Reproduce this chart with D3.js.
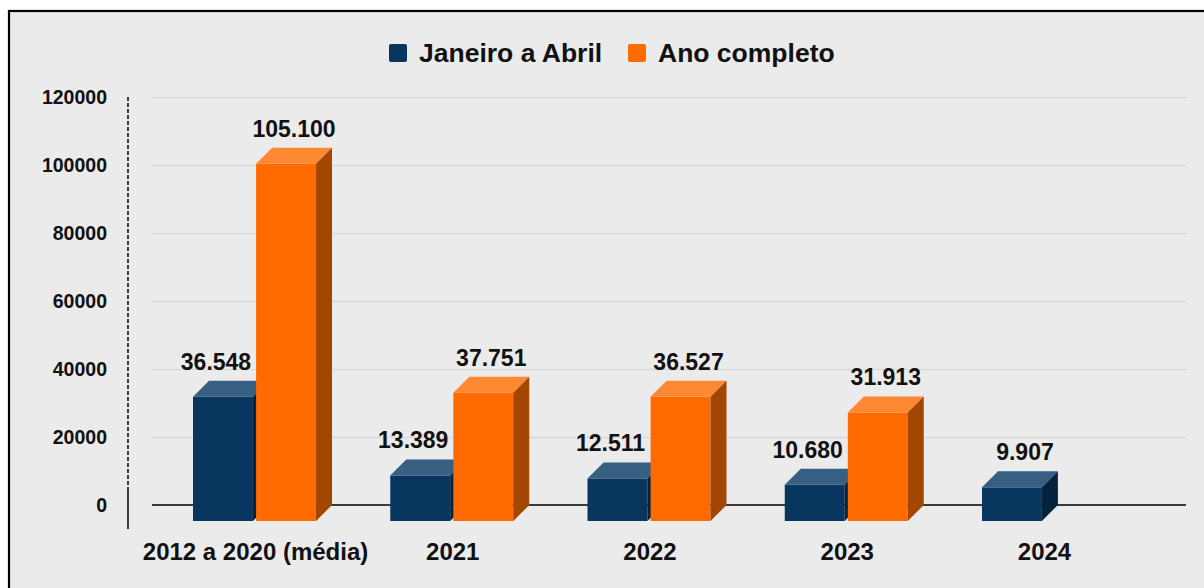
<!DOCTYPE html>
<html lang="pt">
<head>
<meta charset="utf-8">
<script src="https://cdn.jsdelivr.net/npm/d3@7"></script>
<style>
    html, body { margin: 0; padding: 0; background: #ffffff; }
    svg { display: block; font-family: "Liberation Sans", Arial, sans-serif; }
</style>
</head>
<body>
<svg id="chart" width="1204" height="588"></svg>
<script>
// dados
const categories = ['2012 a 2020 (média)', '2021', '2022', '2023', '2024'];
const seriesNames = ['Janeiro a Abril', 'Ano completo'];
const janeiroAbril = [36548, 13389, 12511, 10680, 9907];
const anoCompleto = [105100, 37751, 36527, 31913, null];
const yTicks = [0, 20000, 40000, 60000, 80000, 100000, 120000];

const COLORS = {
    'Janeiro a Abril': { front: '#08365f', top: '#375f82', side: '#06233e' },
    'Ano completo': { front: '#ff6b00', top: '#ff8833', side: '#a34600' }
};

const DEPTH = 16;
const ptBR = d3.formatLocale({ decimal: ',', thousands: '.', grouping: [3], currency: ['R$', ''] });
const formatValue = ptBR.format(',d');

const svg = d3.select('#chart');

// moldura
svg.append('rect')
    .attr('x', 9).attr('y', 11)
    .attr('width', 1300).attr('height', 700)
    .attr('fill', '#ebebeb')
    .attr('stroke', '#000').attr('stroke-width', 2.2);

const rows = categories.map((category, i) => ({
    category,
    values: [
        { series: seriesNames[0], value: janeiroAbril[i] },
        { series: seriesNames[1], value: anoCompleto[i] }
    ].filter((d) => d.value !== null)
}));

const yScale = d3.scaleLinear().domain([0, 120000]).range([505, 97]);
const x0 = d3.scaleBand().domain(categories).range([155.9, 1142.1]).padding(0);
const x1 = d3.scaleBand().domain(seriesNames).range([-61.5, 61.5]).paddingInner(0.05);

const plotLeft = 152;
const plotRight = 1186;

// grade + rótulos do eixo y
svg.append('g')
    .attr('transform', `translate(${plotRight},0)`)
    .call(d3.axisLeft(yScale)
        .tickValues(yTicks)
        .tickSize(plotRight - plotLeft)
        .tickPadding(plotLeft - 107)
        .tickFormat(d3.format('d')))
    .call((g) => g.select('.domain').remove())
    .call((g) => g.selectAll('line')
        .attr('stroke', (d) => (d === 0 ? 'none' : '#d9d9d9'))
        .attr('stroke-width', 1.5))
    .call((g) => g.selectAll('text')
        .attr('fill', '#111')
        .attr('font-size', 19.5)
        .attr('font-weight', 700));

// eixo vertical tracejado
svg.append('line')
    .attr('x1', 128).attr('x2', 128)
    .attr('y1', yScale(120000)).attr('y2', yScale(0) - 16)
    .attr('stroke', '#111').attr('stroke-width', 1.6)
    .attr('stroke-dasharray', '4,2');
svg.append('line')
    .attr('x1', 128).attr('x2', 128)
    .attr('y1', yScale(0) - 16).attr('y2', yScale(0) + 24)
    .attr('stroke', '#111').attr('stroke-width', 1.6);

// linha do zero
svg.append('line')
    .attr('x1', plotLeft).attr('x2', plotRight)
    .attr('y1', yScale(0)).attr('y2', yScale(0))
    .attr('stroke', '#3a3a3a').attr('stroke-width', 2);

const groups = svg.append('g')
    .selectAll('g')
    .data(rows)
    .enter()
    .append('g')
    .attr('transform', (d) => `translate(${x0(d.category) + x0.bandwidth() / 2},0)`);

const bars = groups.selectAll('.bar3d')
    .data((d) => d.values.map((v) => ({ ...v, alone: d.values.length === 1 })))
    .enter()
    .append('g')
    .attr('class', 'bar3d');

function barGeometry(d) {
    const x = x1(d.series);
    const w = x1.bandwidth();
    const top = yScale(d.value);
    const base = yScale(0);
    return { x, w, top, base };
}

// face frontal
bars.append('rect')
    .attr('x', (d) => barGeometry(d).x)
    .attr('y', (d) => barGeometry(d).top + DEPTH)
    .attr('width', x1.bandwidth())
    .attr('height', (d) => barGeometry(d).base - barGeometry(d).top)
    .attr('fill', (d) => COLORS[d.series].front);

// topo
bars.append('polygon')
    .attr('points', (d) => {
        const { x, w, top } = barGeometry(d);
        return [[x, top + DEPTH], [x + DEPTH, top], [x + w + DEPTH, top], [x + w, top + DEPTH]]
            .map((p) => p.join(',')).join(' ');
    })
    .attr('fill', (d) => COLORS[d.series].top);

// lateral
bars.append('polygon')
    .attr('points', (d) => {
        const { x, w, top, base } = barGeometry(d);
        return [[x + w, top + DEPTH], [x + w + DEPTH, top], [x + w + DEPTH, base], [x + w, base + DEPTH]]
            .map((p) => p.join(',')).join(' ');
    })
    .attr('fill', (d) => COLORS[d.series].side);

// rótulos de valor
bars.append('text')
    .attr('x', (d) => {
        const { x, w } = barGeometry(d);
        let shift = DEPTH / 2;
        if (d.series === seriesNames[0]) shift = d.alone ? 13 : -7;
        return x + w / 2 + shift;
    })
    .attr('y', (d) => barGeometry(d).top - 11)
    .attr('text-anchor', 'middle')
    .attr('fill', '#111')
    .attr('font-size', 23)
    .attr('font-weight', 700)
    .text((d) => formatValue(d.value));

// rótulos das categorias
groups.append('text')
    .attr('x', 1)
    .attr('y', 560)
    .attr('text-anchor', 'middle')
    .attr('fill', '#111')
    .attr('font-size', 24)
    .attr('font-weight', 700)
    .text((d) => d.category);

// legenda
const legendItems = [
    { name: seriesNames[0], x: 389 },
    { name: seriesNames[1], x: 628 }
];
const legend = svg.append('g')
    .selectAll('g')
    .data(legendItems)
    .enter()
    .append('g')
    .attr('transform', (d) => `translate(${d.x},44)`);
legend.append('rect')
    .attr('width', 18).attr('height', 18).attr('rx', 2)
    .attr('fill', (d) => COLORS[d.name].front);
legend.append('text')
    .attr('x', 30).attr('y', 17.5)
    .attr('fill', '#111')
    .attr('font-size', 26.5)
    .attr('font-weight', 700)
    .text((d) => d.name);
</script>
</body>
</html>
